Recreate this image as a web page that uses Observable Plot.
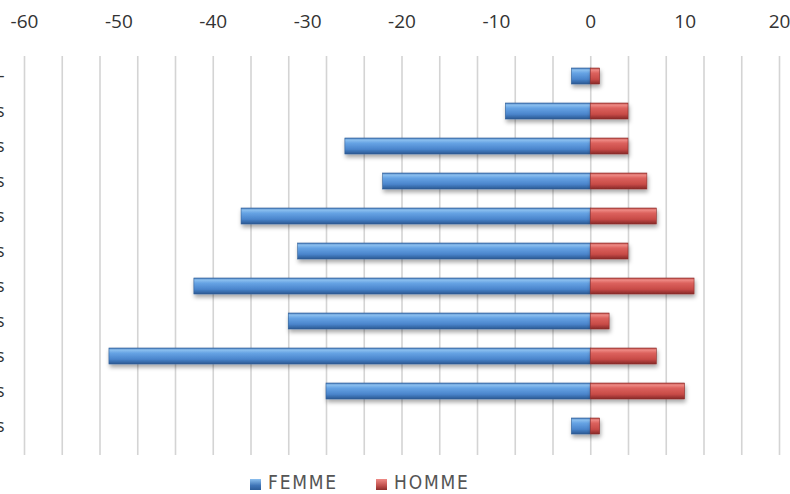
<!DOCTYPE html>
<html>
<head>
<meta charset="utf-8">
<script src="https://cdn.jsdelivr.net/npm/d3@7"></script>
<script src="https://cdn.jsdelivr.net/npm/@observablehq/plot@0.6"></script>
<style>
  html, body { margin: 0; padding: 0; background: #fff; }
  #wrap { position: relative; width: 790px; height: 494px; overflow: hidden; }
  #legend { position: absolute; left: 0; top: 471px; width: 790px; height: 24px;
    font-family: "DejaVu Sans Condensed", "DejaVu Sans", sans-serif; font-size: 19px; color: #555; }
  .item { position: absolute; top: 0; display: flex; align-items: center; letter-spacing: 1.8px; }
  .sw { width: 11px; height: 11px; margin-right: 7px; margin-top: 4px; }
</style>
</head>
<body>
<div id="wrap"><div id="chart"></div><div id="legend"></div></div>
<script>
const categories = ["Non renseigné -", "Moins de 20 ans", "20 à 24 ans", "25 à 29 ans", "30 à 34 ans",
  "35 à 39 ans", "40 à 44 ans", "45 à 49 ans", "50 à 54 ans", "55 à 59 ans", "60 ans et plus"];
const femme = [-2, -9, -26, -22, -37, -31, -42, -32, -51, -28, -2];
const homme = [1, 4, 4, 6, 7, 4, 11, 2, 7, 10, 1];
const xTicks = [-60, -50, -40, -30, -20, -10, 0, 10, 20];
const gridValues = d3.range(-60, 21, 4);
const seriesNames = ["FEMME", "HOMME"];

const rows = categories.map((c, i) => ({cat: c, femme: femme[i], homme: homme[i]}));

const chart = Plot.plot({
  width: 790,
  height: 458,
  marginLeft: 24,
  marginRight: 11,
  marginTop: 56,
  marginBottom: 3,
  style: {fontFamily: "'Open Sans', sans-serif", fontSize: "19px", color: "#333", background: "#fff"},
  x: {domain: [-60, 20], label: null},
  y: {domain: categories, range: [56, 446], paddingInner: 0.55, paddingOuter: 0.275, label: null},
  marks: [
    Plot.ruleX(gridValues, {stroke: "#d4d4d4", strokeWidth: 1.6}),
    Plot.barX(rows, {y: "cat", x: "femme", fill: "url(#gBlue)", stroke: "#2f5f98", strokeWidth: 0.6}),
    Plot.barX(rows, {y: "cat", x: "homme", fill: "url(#gRed)", stroke: "#8e2f2c", strokeWidth: 0.6}),
    Plot.axisX({anchor: "top", ticks: xTicks, tickSize: 0, tickPadding: 29, tickFormat: d => String(d), fontSize: 19, letterSpacing: 1.5, label: null}),
    Plot.axisY({anchor: "left", tickSize: 0, tickPadding: 20, fontSize: 18, label: null})
  ]
});

// gradients & shadow
const svg = d3.select(chart);
const defs = svg.insert("defs", ":first-child");
function grad(id, stops) {
  const g = defs.append("linearGradient").attr("id", id).attr("x1", 0).attr("y1", 0).attr("x2", 0).attr("y2", 1);
  stops.forEach(([o, c]) => g.append("stop").attr("offset", o).attr("stop-color", c));
}
grad("gBlue", [[0, "#3f74b6"], [0.12, "#8cc0ef"], [0.32, "#66a3e4"], [0.7, "#4a85cc"], [1, "#2a5892"]]);
grad("gRed", [[0, "#b3403d"], [0.12, "#ef8b86"], [0.32, "#dc625d"], [0.7, "#c84b47"], [1, "#86292a"]]);
const f = defs.append("filter").attr("id", "shadow").attr("x", "-5%").attr("y", "-30%").attr("width", "110%").attr("height", "190%");
f.append("feDropShadow").attr("dx", 1).attr("dy", 3).attr("stdDeviation", 2).attr("flood-color", "#000").attr("flood-opacity", 0.35);
svg.selectAll("g[aria-label='bar']").attr("filter", "url(#shadow)");

document.getElementById("chart").appendChild(chart);

// legend
const legend = document.getElementById("legend");
const swatchBg = {FEMME: "linear-gradient(#8cc0ef, #3f74b6 60%, #2c5d9a)", HOMME: "linear-gradient(#ef8b86, #c0504d 60%, #8c2d2a)"};
const lefts = [250, 376];
seriesNames.forEach((n, i) => {
  const it = document.createElement("div");
  it.className = "item";
  it.style.left = lefts[i] + "px";
  const sw = document.createElement("span");
  sw.className = "sw";
  sw.style.background = swatchBg[n];
  const t = document.createElement("span");
  t.textContent = n;
  it.appendChild(sw); it.appendChild(t);
  legend.appendChild(it);
});
</script>
</body>
</html>
